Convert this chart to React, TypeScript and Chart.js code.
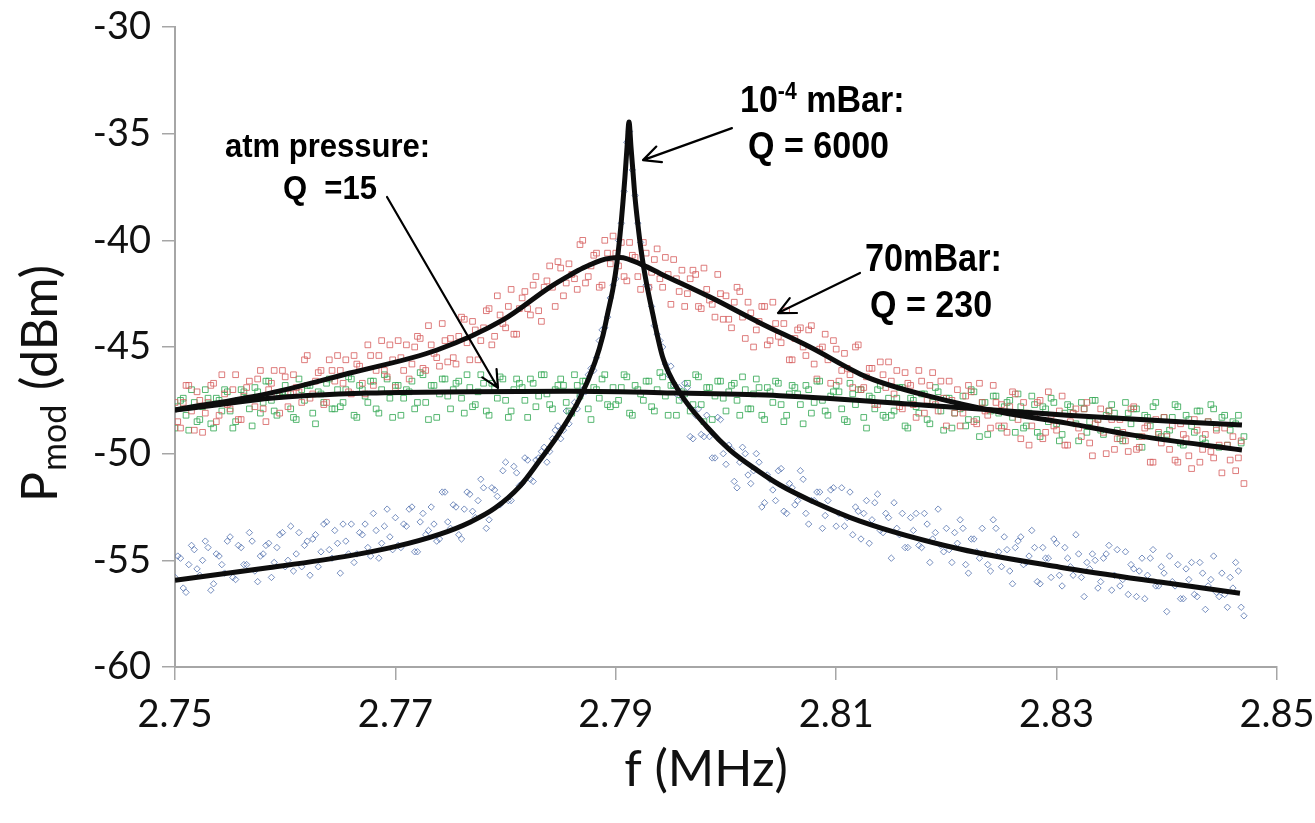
import React, { useEffect, useRef } from 'react';
import { Chart, registerables } from 'chart.js';
Chart.register(...registerables);

// Frequency sweep A (MHz)
const freq = [
  2.7500, 2.7505, 2.7510, 2.7515, 2.7520, 2.7525, 2.7530, 2.7535, 2.7540, 2.7545,
  2.7550, 2.7555, 2.7560, 2.7565, 2.7570, 2.7575, 2.7580, 2.7585, 2.7590, 2.7595,
  2.7600, 2.7605, 2.7610, 2.7615, 2.7620, 2.7625, 2.7630, 2.7635, 2.7640, 2.7645,
  2.7650, 2.7655, 2.7660, 2.7665, 2.7670, 2.7675, 2.7680, 2.7685, 2.7690, 2.7695,
  2.7700, 2.7705, 2.7710, 2.7715, 2.7720, 2.7725, 2.7730, 2.7735, 2.7740, 2.7745,
  2.7750, 2.7755, 2.7760, 2.7765, 2.7770, 2.7775, 2.7780, 2.7785, 2.7790, 2.7795,
  2.7800, 2.7805, 2.7810, 2.7815, 2.7820, 2.7825, 2.7830, 2.7835, 2.7840, 2.7845,
  2.7850, 2.7855, 2.7860, 2.7865, 2.7870, 2.7875, 2.7880, 2.7885, 2.7890, 2.7895,
  2.7900, 2.7905, 2.7910, 2.7915, 2.7920, 2.7925, 2.7930, 2.7935, 2.7940, 2.7945,
  2.7950, 2.7955, 2.7960, 2.7965, 2.7970, 2.7975, 2.7980, 2.7985, 2.7990, 2.7995,
  2.8000, 2.8005, 2.8010, 2.8015, 2.8020, 2.8025, 2.8030, 2.8035, 2.8040, 2.8045,
  2.8050, 2.8055, 2.8060, 2.8065, 2.8070, 2.8075, 2.8080, 2.8085, 2.8090, 2.8095,
  2.8100, 2.8105, 2.8110, 2.8115, 2.8120, 2.8125, 2.8130, 2.8135, 2.8140, 2.8145,
  2.8150, 2.8155, 2.8160, 2.8165, 2.8170, 2.8175, 2.8180, 2.8185, 2.8190, 2.8195,
  2.8200, 2.8205, 2.8210, 2.8215, 2.8220, 2.8225, 2.8230, 2.8235, 2.8240, 2.8245,
  2.8250, 2.8255, 2.8260, 2.8265, 2.8270, 2.8275, 2.8280, 2.8285, 2.8290, 2.8295,
  2.8300, 2.8305, 2.8310, 2.8315, 2.8320, 2.8325, 2.8330, 2.8335, 2.8340, 2.8345,
  2.8350, 2.8355, 2.8360, 2.8365, 2.8370, 2.8375, 2.8380, 2.8385, 2.8390, 2.8395,
  2.8400, 2.8405, 2.8410, 2.8415, 2.8420, 2.8425, 2.8430, 2.8435, 2.8440, 2.8445,
  2.8450, 2.8455, 2.8460, 2.8465, 2.8470,
];

// Frequency sweep B (MHz), interleaved with sweep A
const freq2 = [
  2.75025, 2.75075, 2.75125, 2.75175, 2.75225, 2.75275, 2.75325, 2.75375, 2.75425, 2.75475,
  2.75525, 2.75575, 2.75625, 2.75675, 2.75725, 2.75775, 2.75825, 2.75875, 2.75925, 2.75975,
  2.76025, 2.76075, 2.76125, 2.76175, 2.76225, 2.76275, 2.76325, 2.76375, 2.76425, 2.76475,
  2.76525, 2.76575, 2.76625, 2.76675, 2.76725, 2.76775, 2.76825, 2.76875, 2.76925, 2.76975,
  2.77025, 2.77075, 2.77125, 2.77175, 2.77225, 2.77275, 2.77325, 2.77375, 2.77425, 2.77475,
  2.77525, 2.77575, 2.77625, 2.77675, 2.77725, 2.77775, 2.77825, 2.77875, 2.77925, 2.77975,
  2.78025, 2.78075, 2.78125, 2.78175, 2.78225, 2.78275, 2.78325, 2.78375, 2.78425, 2.78475,
  2.78525, 2.78575, 2.78625, 2.78675, 2.78725, 2.78775, 2.78825, 2.78875, 2.78925, 2.78975,
  2.79025, 2.79075, 2.79125, 2.79175, 2.79225, 2.79275, 2.79325, 2.79375, 2.79425, 2.79475,
  2.79525, 2.79575, 2.79625, 2.79675, 2.79725, 2.79775, 2.79825, 2.79875, 2.79925, 2.79975,
  2.80025, 2.80075, 2.80125, 2.80175, 2.80225, 2.80275, 2.80325, 2.80375, 2.80425, 2.80475,
  2.80525, 2.80575, 2.80625, 2.80675, 2.80725, 2.80775, 2.80825, 2.80875, 2.80925, 2.80975,
  2.81025, 2.81075, 2.81125, 2.81175, 2.81225, 2.81275, 2.81325, 2.81375, 2.81425, 2.81475,
  2.81525, 2.81575, 2.81625, 2.81675, 2.81725, 2.81775, 2.81825, 2.81875, 2.81925, 2.81975,
  2.82025, 2.82075, 2.82125, 2.82175, 2.82225, 2.82275, 2.82325, 2.82375, 2.82425, 2.82475,
  2.82525, 2.82575, 2.82625, 2.82675, 2.82725, 2.82775, 2.82825, 2.82875, 2.82925, 2.82975,
  2.83025, 2.83075, 2.83125, 2.83175, 2.83225, 2.83275, 2.83325, 2.83375, 2.83425, 2.83475,
  2.83525, 2.83575, 2.83625, 2.83675, 2.83725, 2.83775, 2.83825, 2.83875, 2.83925, 2.83975,
  2.84025, 2.84075, 2.84125, 2.84175, 2.84225, 2.84275, 2.84325, 2.84375, 2.84425, 2.84475,
  2.84525, 2.84575, 2.84625, 2.84675,
];

// Measured P_mod (dBm): 10^-4 mBar (blue), sweep A
const pVacuum = [
  -55.8, -54.9, -56.5, -54.3, -55.4, -55.0, -54.4, -56.1, -54.8, -55.6,
  -53.9, -55.9, -54.4, -55.2, -54.1, -56.0, -54.7, -54.2, -55.1, -53.8,
  -55.3, -53.4, -54.7, -55.3, -54.1, -54.0, -55.3, -53.3, -54.5, -53.6,
  -55.6, -54.1, -53.3, -54.7, -53.8, -54.4, -52.8, -54.9, -53.4, -53.9,
  -53.0, -54.4, -53.4, -52.5, -54.6, -52.8, -53.6, -53.3, -54.0, -51.8,
  -53.5, -52.5, -54.0, -51.8, -52.7, -52.2, -51.6, -53.1, -51.7, -52.4,
  -50.4, -52.2, -50.9, -51.4, -50.3, -51.3, -50.2, -49.7, -49.9, -48.9,
  -49.3, -48.0, -48.1, -47.9, -47.0, -46.3, -46.1, -44.7, -44.1, -42.7,
  -41.8, -39.2, -35.4, -36.7, -39.2, -41.2, -42.2, -44.0, -44.7, -45.8,
  -45.9, -47.2, -47.4, -46.9, -49.3, -47.9, -49.2, -49.2, -50.2, -48.4,
  -50.5, -49.8, -51.6, -49.7, -51.0, -50.8, -50.4, -52.3, -51.2, -52.2,
  -50.7, -52.8, -51.6, -52.2, -51.2, -53.3, -52.2, -51.8, -52.9, -51.7,
  -53.4, -51.6, -53.0, -53.8, -52.7, -52.8, -54.2, -52.3, -53.6, -52.8,
  -54.9, -53.5, -52.8, -54.4, -53.6, -54.3, -52.8, -55.1, -53.7, -54.3,
  -53.5, -55.1, -54.2, -53.5, -55.6, -54.0, -54.9, -54.7, -55.5, -53.5,
  -55.3, -54.5, -56.1, -54.1, -55.2, -54.8, -54.4, -56.1, -54.9, -55.8,
  -54.2, -56.2, -54.9, -55.7, -54.7, -56.7, -55.4, -55.0, -56.0, -54.7,
  -56.4, -54.5, -55.9, -56.6, -55.4, -55.5, -56.8, -54.9, -56.2, -55.3,
  -57.4, -56.0, -55.2, -56.8, -55.9, -56.6, -55.1, -57.3, -55.9, -56.5,
  -55.6, -57.2, -56.3, -55.5, -57.6,
];
// sweep B
const pVacuum2 = [
  -54.8, -56.3, -55.2, -54.5, -55.7, -54.1, -56.4, -54.7, -55.2, -54.1,
  -55.8, -54.3, -55.2, -53.7, -55.5, -54.8, -54.3, -55.8, -54.4, -53.7,
  -55.0, -55.5, -53.7, -54.3, -55.7, -53.8, -54.6, -53.2, -54.9, -54.2,
  -53.3, -54.7, -55.1, -53.7, -53.3, -54.8, -53.6, -54.2, -52.6, -54.5,
  -54.3, -53.3, -52.6, -54.6, -53.2, -53.8, -52.5, -54.1, -51.8, -53.2,
  -52.4, -53.8, -52.6, -51.9, -53.0, -51.2, -53.5, -51.6, -52.0, -50.8,
  -52.2, -50.6, -51.5, -50.2, -51.2, -50.3, -49.9, -50.4, -49.3, -48.7,
  -48.9, -48.6, -47.6, -47.3, -47.1, -46.0, -45.5, -44.2, -43.6, -42.1,
  -40.0, -37.7, -34.9, -37.9, -40.1, -42.1, -43.1, -44.4, -45.0, -46.3,
  -46.8, -46.9, -46.7, -49.2, -48.2, -49.1, -48.2, -50.2, -48.3, -50.0,
  -49.6, -51.3, -50.4, -50.0, -51.4, -50.0, -52.5, -51.0, -51.7, -50.8,
  -52.7, -51.4, -52.4, -50.8, -52.8, -52.2, -51.8, -53.5, -52.2, -51.6,
  -52.8, -53.4, -51.8, -52.5, -54.0, -52.2, -53.1, -51.9, -53.7, -53.0,
  -52.3, -53.8, -54.4, -53.0, -52.8, -54.4, -53.3, -54.0, -52.6, -54.6,
  -54.5, -53.7, -53.1, -55.2, -54.0, -54.6, -53.5, -55.2, -53.1, -54.6,
  -53.9, -55.5, -54.4, -53.9, -55.1, -53.6, -56.0, -54.4, -54.9, -54.0,
  -55.7, -54.4, -55.3, -53.8, -55.8, -55.1, -54.7, -56.3, -54.9, -54.3,
  -55.7, -56.2, -54.6, -55.2, -56.7, -54.9, -55.7, -54.5, -56.2, -55.6,
  -54.8, -56.2, -56.8, -55.4, -55.1, -56.7, -55.6, -56.2, -54.8, -56.7,
  -56.6, -55.8, -55.1, -57.2,
];

// Measured P_mod (dBm): 70 mBar (red), sweep A
const p70mBar = [
  -47.6, -48.8, -46.8, -48.0, -47.1, -49.0, -47.6, -46.7, -48.2, -47.2,
  -47.9, -46.3, -48.4, -46.9, -47.4, -46.5, -47.9, -47.0, -46.1, -48.1,
  -46.4, -47.2, -46.9, -47.6, -45.4, -47.2, -46.2, -47.7, -45.6, -46.6,
  -46.1, -45.6, -47.2, -45.8, -46.7, -44.9, -46.8, -45.4, -46.1, -44.9,
  -46.9, -45.5, -44.9, -45.8, -44.5, -46.0, -44.0, -45.3, -45.9, -44.7,
  -44.6, -45.8, -43.6, -44.8, -43.8, -45.6, -44.1, -43.2, -44.5, -43.5,
  -44.1, -42.3, -44.4, -42.7, -43.2, -42.1, -43.3, -42.2, -41.2, -43.1,
  -41.3, -42.0, -41.6, -42.3, -40.0, -41.7, -40.7, -42.2, -40.0, -41.1,
  -40.6, -40.1, -41.9, -40.7, -41.7, -40.1, -42.2, -40.9, -41.8, -40.8,
  -43.0, -41.8, -41.4, -42.5, -41.4, -43.1, -41.3, -42.8, -43.6, -42.5,
  -42.6, -44.1, -42.2, -43.6, -42.9, -45.0, -43.8, -43.1, -44.7, -43.9,
  -44.8, -43.3, -45.6, -44.2, -45.0, -44.2, -45.8, -45.1, -44.4, -46.7,
  -45.1, -46.1, -46.0, -46.9, -44.9, -46.9, -46.0, -47.7, -45.7, -46.9,
  -46.6, -46.1, -47.9, -46.7, -47.7, -46.1, -48.1, -46.8, -47.7, -46.6,
  -48.7, -47.5, -47.0, -48.1, -46.8, -48.5, -46.7, -48.0, -48.8, -47.6,
  -47.7, -49.0, -47.1, -48.4, -47.6, -49.6, -48.2, -47.5, -49.0, -48.2,
  -48.9, -47.3, -49.6, -48.1, -48.8, -47.9, -49.5, -48.6, -47.9, -50.0,
  -48.4, -49.3, -49.0, -49.9, -47.8, -49.7, -48.8, -50.4, -48.4, -49.5,
  -49.2, -48.7, -50.4, -49.1, -50.1, -48.4, -50.4, -49.1, -49.9, -48.9,
  -50.9, -49.6, -49.2, -50.2, -51.4,
];
// sweep B
const p70mBar2 = [
  -48.5, -47.6, -46.8, -48.9, -47.5, -48.1, -46.8, -48.5, -46.3, -47.7,
  -47.0, -48.4, -47.3, -46.6, -47.8, -46.1, -48.5, -46.7, -47.2, -46.1,
  -47.8, -46.3, -47.1, -45.6, -47.4, -46.6, -46.1, -47.6, -46.1, -45.4,
  -46.7, -47.1, -45.4, -45.9, -47.2, -45.4, -46.1, -44.7, -46.4, -45.6,
  -44.7, -46.1, -46.5, -45.0, -44.6, -46.1, -44.9, -45.5, -43.9, -45.7,
  -45.5, -44.5, -43.7, -45.6, -44.2, -44.7, -43.3, -44.9, -42.6, -43.9,
  -43.1, -44.4, -43.2, -42.4, -43.5, -41.7, -43.8, -41.9, -42.2, -41.0,
  -42.6, -41.1, -41.8, -40.2, -42.0, -41.2, -40.6, -42.1, -40.6, -39.8,
  -41.2, -41.7, -40.1, -40.8, -42.3, -40.6, -41.5, -40.4, -42.2, -41.6,
  -40.9, -42.4, -43.1, -41.8, -41.6, -43.2, -42.3, -43.0, -41.6, -43.7,
  -43.7, -42.9, -42.4, -44.6, -43.4, -44.2, -43.1, -44.9, -42.9, -44.5,
  -43.9, -45.6, -44.6, -44.1, -45.4, -44.0, -46.5, -45.0, -45.6, -44.7,
  -46.6, -45.3, -46.3, -45.0, -47.0, -46.4, -46.0, -47.7, -46.3, -45.7,
  -47.2, -47.8, -46.2, -46.8, -48.3, -46.6, -47.5, -46.2, -48.0, -47.4,
  -46.6, -48.1, -48.7, -47.3, -47.1, -48.6, -47.6, -48.2, -46.8, -48.7,
  -48.7, -47.8, -47.2, -49.3, -48.1, -48.7, -47.6, -49.3, -47.1, -48.7,
  -48.0, -49.6, -48.5, -47.9, -49.2, -47.6, -50.1, -48.4, -49.0, -48.0,
  -49.8, -48.4, -49.4, -47.9, -49.8, -49.2, -48.7, -50.4, -49.0, -48.3,
  -49.8, -50.3, -48.6, -49.3, -50.7, -48.9, -49.8, -48.5, -50.2, -49.6,
  -48.8, -50.3, -50.8, -49.4,
];

// Measured P_mod (dBm): atmospheric pressure (green), sweep A
const pAtm = [
  -48.8, -47.5, -48.2, -47.0, -48.5, -47.8, -47.4, -48.8, -47.5, -47.0,
  -48.0, -48.5, -47.0, -47.4, -48.7, -47.1, -47.6, -46.6, -48.0, -47.3,
  -46.8, -47.9, -48.4, -47.0, -46.8, -48.1, -47.1, -47.6, -46.5, -47.9,
  -47.8, -47.0, -46.5, -48.3, -47.0, -47.6, -46.6, -48.1, -46.3, -47.4,
  -46.8, -48.2, -47.0, -46.6, -47.6, -46.3, -48.4, -46.8, -47.2, -46.5,
  -47.9, -46.7, -47.4, -46.3, -47.8, -47.1, -46.7, -48.2, -46.9, -46.4,
  -47.5, -48.0, -46.5, -46.9, -48.3, -46.7, -47.3, -46.3, -47.7, -47.0,
  -46.5, -47.6, -48.1, -46.8, -46.6, -47.9, -46.9, -47.4, -46.3, -47.8,
  -47.7, -46.9, -46.4, -48.2, -47.0, -47.5, -46.6, -48.0, -46.2, -47.3,
  -46.8, -48.2, -47.1, -46.7, -47.7, -46.4, -48.5, -46.9, -47.3, -46.6,
  -48.0, -46.8, -47.5, -46.4, -47.9, -47.2, -46.9, -48.4, -47.1, -46.6,
  -47.7, -48.2, -46.8, -47.2, -48.6, -47.0, -47.6, -46.6, -48.0, -47.3,
  -46.8, -47.9, -48.5, -47.2, -47.0, -48.3, -47.3, -47.9, -46.8, -48.3,
  -48.2, -47.4, -46.9, -48.8, -47.5, -48.1, -47.2, -48.6, -46.9, -48.0,
  -47.4, -48.8, -47.7, -47.3, -48.4, -47.1, -49.2, -47.6, -48.0, -47.3,
  -48.8, -47.6, -48.3, -47.2, -48.8, -48.1, -47.7, -49.2, -47.9, -47.4,
  -48.6, -49.1, -47.7, -48.1, -49.4, -47.9, -48.5, -47.5, -48.9, -48.2,
  -47.7, -48.9, -49.4, -48.1, -47.9, -49.2, -48.2, -48.7, -47.6, -49.2,
  -49.1, -48.3, -47.8, -49.6, -48.4, -49.0, -48.0, -49.5, -47.7, -48.8,
  -48.3, -49.6, -48.5, -48.2, -49.2,
];
// sweep B
const pAtm2 = [
  -47.8, -47.4, -48.9, -47.6, -48.4, -47.0, -48.6, -47.4, -48.0, -47.1,
  -48.8, -47.5, -47.1, -47.9, -46.9, -48.1, -46.6, -47.5, -48.2, -47.1,
  -47.1, -48.3, -46.5, -47.5, -46.8, -48.6, -47.2, -46.7, -47.9, -47.0,
  -47.6, -46.4, -48.2, -46.8, -47.3, -46.6, -47.9, -47.0, -46.5, -48.3,
  -46.8, -47.4, -47.1, -47.9, -46.2, -47.6, -46.8, -48.3, -46.5, -47.3,
  -47.0, -46.6, -48.1, -46.9, -47.7, -46.3, -48.0, -46.7, -47.4, -46.5,
  -48.3, -47.0, -46.7, -47.5, -46.5, -47.8, -46.3, -47.2, -47.9, -46.8,
  -46.8, -48.0, -46.3, -47.3, -46.6, -48.4, -47.0, -46.5, -47.7, -46.9,
  -47.5, -46.3, -48.1, -46.8, -47.2, -46.6, -47.8, -47.0, -46.4, -48.2,
  -46.8, -47.5, -47.2, -48.0, -46.3, -47.7, -46.9, -48.4, -46.6, -47.4,
  -47.1, -46.7, -48.2, -47.0, -47.9, -46.5, -48.2, -46.9, -47.6, -46.7,
  -48.5, -47.2, -46.9, -47.7, -46.8, -48.1, -46.6, -47.5, -48.2, -47.1,
  -47.1, -48.4, -46.7, -47.7, -47.0, -48.8, -47.4, -47.0, -48.2, -47.4,
  -48.0, -46.9, -48.7, -47.4, -47.8, -47.2, -48.4, -47.6, -47.1, -48.9,
  -47.4, -48.1, -47.9, -48.7, -47.0, -48.4, -47.6, -49.1, -47.3, -48.1,
  -47.8, -47.5, -49.0, -47.8, -48.7, -47.3, -49.0, -47.8, -48.5, -47.6,
  -49.4, -48.1, -47.8, -48.6, -47.6, -49.0, -47.5, -48.4, -49.1, -48.0,
  -48.1, -49.3, -47.6, -48.6, -47.9, -49.7, -48.3, -47.8, -49.1, -48.3,
  -48.9, -47.7, -49.5, -48.2, -48.7, -48.0, -49.3, -48.5, -47.9, -49.7,
  -48.2, -48.9, -48.6, -49.5,
];

// Lorentzian fit curves
const fitVacF = [
  2.75, 2.75862, 2.76588, 2.76996, 2.77405, 2.77677, 2.77904, 2.78131, 2.78312, 2.78494,
  2.78675, 2.78811, 2.78884, 2.78929, 2.78975, 2.79011, 2.79047, 2.79065, 2.79083, 2.79102,
  2.7912, 2.79138, 2.79156, 2.79174, 2.79201, 2.79229, 2.79265, 2.79328, 2.79428, 2.79583,
  2.79828, 2.80036, 2.80281, 2.8049, 2.80762, 2.81216, 2.82123, 2.83031, 2.83938, 2.84664,
];
const fitVacP = [
  -55.93, -55.34, -54.78, -54.36, -53.77, -53.21, -52.55, -51.52, -50.3, -48.99,
  -47.39, -45.71, -44.44, -43.36, -42.24, -41.02, -39.28, -38.2, -37.03, -35.63,
  -34.45, -35.63, -36.8, -37.97, -39.28, -40.45, -41.63, -43.27, -45.52, -47.16,
  -48.75, -49.83, -50.77, -51.47, -52.18, -53.16, -54.47, -55.32, -56.02, -56.54,
];
const fit70F = [
  2.75, 2.75862, 2.76588, 2.77378, 2.77976, 2.78403, 2.78584, 2.78702, 2.78902, 2.79038,
  2.79247, 2.79401, 2.79855, 2.80309, 2.80762, 2.81279, 2.81878, 2.82486, 2.83094, 2.83693,
  2.84682,
];
const fit70P = [
  -47.95, -47.16, -46.22, -45.14, -43.73, -42.19, -41.63, -41.3, -40.88, -40.8,
  -41.16, -41.55, -42.66, -43.87, -45.0, -46.41, -47.35, -48.05, -48.57, -49.13,
  -49.83,
];
const fitAtmF = [
  2.75, 2.75408, 2.75862, 2.7677, 2.77677, 2.78584, 2.79583, 2.8049, 2.81878, 2.83094, 2.84682,
];
const fitAtmP = [
  -47.95, -47.7, -47.4, -47.16, -47.1, -47.08, -47.16, -47.28, -47.75, -48.2, -48.66,
];

const xTicks = [2.75, 2.77, 2.79, 2.81, 2.83, 2.85];
const yTicks = [-60, -55, -50, -45, -40, -35, -30];

const pts = (xs: number[], ys: number[]) => xs.map((x, i) => ({ x, y: ys[i] }));

const LABEL_FONT = '"Liberation Sans", Arial, sans-serif';
const AXIS_FONT = 'Lato, "Open Sans", sans-serif';

type Run = { t: string; size: number; dy?: number };

function drawRuns(ctx: CanvasRenderingContext2D, runs: Run[], x: number, y: number, sx: number) {
  ctx.save();
  ctx.translate(x, y);
  ctx.scale(sx, 1);
  ctx.textAlign = 'left';
  ctx.textBaseline = 'alphabetic';
  let cx = 0;
  for (const r of runs) {
    ctx.font = `bold ${r.size}px ${LABEL_FONT}`;
    ctx.fillText(r.t, cx, r.dy || 0);
    cx += ctx.measureText(r.t).width;
  }
  ctx.restore();
}

function drawArrow(ctx: CanvasRenderingContext2D, x1: number, y1: number, x2: number, y2: number) {
  const ang = Math.atan2(y1 - y2, x1 - x2);
  const len = 19;
  const spread = 0.45;
  ctx.beginPath();
  ctx.moveTo(x1, y1);
  ctx.lineTo(x2, y2);
  ctx.moveTo(x2 + len * Math.cos(ang + spread), y2 + len * Math.sin(ang + spread));
  ctx.lineTo(x2, y2);
  ctx.lineTo(x2 + len * Math.cos(ang - spread), y2 + len * Math.sin(ang - spread));
  ctx.stroke();
}

const annotPlugin = {
  id: 'annot',
  afterDatasetsDraw(chart: any) {
    const ctx: CanvasRenderingContext2D = chart.ctx;
    const xs = chart.scales.x;
    const ys = chart.scales.y;
    const X = (f: number) => xs.getPixelForValue(f);
    const Y = (p: number) => ys.getPixelForValue(p);
    ctx.save();
    ctx.fillStyle = '#000';
    ctx.strokeStyle = '#000';
    ctx.lineWidth = 2.2;
    ctx.lineCap = 'round';
    ctx.lineJoin = 'round';

    // arrows
    drawArrow(ctx, X(2.76924), Y(-37.97), X(2.77931), Y(-46.92));
    drawArrow(ctx, X(2.80054), Y(-34.74), X(2.79247), Y(-36.24));
    drawArrow(ctx, X(2.81216), Y(-41.53), X(2.80472), Y(-43.41));

    // labels
    drawRuns(ctx, [{ t: 'atm pressure:', size: 33 }], X(2.75454), Y(-36.09), 0.94);
    drawRuns(ctx, [{ t: 'Q  =15', size: 33 }], X(2.7598), Y(-38.06), 0.94);
    drawRuns(ctx, [{ t: '10', size: 37 }, { t: '-4', size: 23, dy: -13 }, { t: ' mBar:', size: 37 }], X(2.80127), Y(-33.98), 0.92);
    drawRuns(ctx, [{ t: 'Q = 6000', size: 37 }], X(2.802), Y(-36.14), 0.92);
    drawRuns(ctx, [{ t: '70mBar:', size: 38 }], X(2.81261), Y(-41.44), 0.9);
    drawRuns(ctx, [{ t: 'Q = 230', size: 37 }], X(2.81307), Y(-43.6), 0.92);

    // axis titles
    ctx.fillStyle = '#111';
    ctx.textBaseline = 'alphabetic';
    ctx.textAlign = 'center';
    ctx.font = `50px ${AXIS_FONT}`;
    ctx.fillText('f (MHz)', 706, 786);

    ctx.translate(57, 502);
    ctx.rotate(-Math.PI / 2);
    ctx.textAlign = 'left';
    ctx.font = `50px ${AXIS_FONT}`;
    ctx.fillText('P', 0, 0);
    let w = ctx.measureText('P').width + 1;
    ctx.font = `34px ${AXIS_FONT}`;
    ctx.fillText('mod', w, 9);
    w += ctx.measureText('mod').width + 2;
    ctx.font = `50px ${AXIS_FONT}`;
    ctx.fillText(' (dBm)', w, 0);
    ctx.restore();
  },
};

export default function App() {
  const ref = useRef<HTMLCanvasElement | null>(null);

  useEffect(() => {
    document.body.style.margin = '0';
    if (!ref.current) return;
    const lineDs = (data: any[]) => ({
      data,
      showLine: true,
      borderColor: '#0d0d0d',
      borderWidth: 5,
      pointRadius: 0,
      fill: false,
      cubicInterpolationMode: 'monotone' as const,
    });
    const dotDs = (data: any[], color: string, style: string, r: number) => ({
      data,
      showLine: false,
      pointStyle: style,
      pointRadius: r,
      pointBorderWidth: 1,
      pointBorderColor: color,
      pointBackgroundColor: 'rgba(255,255,255,0)',
      borderColor: color,
      backgroundColor: 'rgba(255,255,255,0)',
    });
    const RED = 'rgba(214,92,92,0.8)';
    const GREEN = 'rgba(56,170,88,0.85)';
    const BLUE = 'rgba(74,105,170,0.75)';

    const chart = new Chart(ref.current, {
      type: 'scatter',
      data: {
        datasets: [
          lineDs(pts(fitVacF, fitVacP)),
          lineDs(pts(fit70F, fit70P)),
          lineDs(pts(fitAtmF, fitAtmP)),
          dotDs(pts(freq, p70mBar), RED, 'rect', 4),
          dotDs(pts(freq2, p70mBar2), RED, 'rect', 4),
          dotDs(pts(freq, pAtm), GREEN, 'rect', 4),
          dotDs(pts(freq2, pAtm2), GREEN, 'rect', 4),
          dotDs(pts(freq, pVacuum), BLUE, 'rectRot', 3.2),
          dotDs(pts(freq2, pVacuum2), BLUE, 'rectRot', 3.2),
        ] as any,
      },
      options: {
        animation: false,
        responsive: false,
        devicePixelRatio: 1,
        layout: { padding: { top: 27, right: 38, left: 0, bottom: 0 } },
        plugins: { legend: { display: false }, tooltip: { enabled: false } },
        scales: {
          x: {
            type: 'linear',
            min: 2.75,
            max: 2.85,
            afterBuildTicks: (s: any) => {
              s.ticks = xTicks.map((v) => ({ value: v }));
            },
            afterFit: (s: any) => {
              s.height = 156;
              s.paddingLeft = 0;
              s.paddingRight = 0;
            },
            ticks: {
              callback: (v: any) => Number(v).toFixed(2),
              font: { family: AXIS_FONT, size: 38 },
              color: '#111',
              padding: 12,
              maxRotation: 0,
              autoSkip: false,
            },
            grid: { display: true, drawOnChartArea: false, drawTicks: true, tickLength: 13, color: '#a6a6a6', lineWidth: 1.5 },
            border: { display: true, color: '#a6a6a6', width: 2 },
          },
          y: {
            type: 'linear',
            min: -60,
            max: -30,
            afterBuildTicks: (s: any) => {
              s.ticks = yTicks.map((v) => ({ value: v }));
            },
            afterFit: (s: any) => {
              s.width = 175;
              s.paddingTop = 0;
              s.paddingBottom = 0;
            },
            ticks: {
              callback: (v: any) => String(v),
              font: { family: AXIS_FONT, size: 38 },
              color: '#111',
              padding: 11,
              autoSkip: false,
            },
            grid: { display: true, drawOnChartArea: false, drawTicks: true, tickLength: 13, color: '#a6a6a6', lineWidth: 1.5 },
            border: { display: true, color: '#a6a6a6', width: 2 },
          },
        },
      },
      plugins: [annotPlugin],
    });
    return () => chart.destroy();
  }, []);

  return (
    <div style={{ position: 'absolute', left: 0, top: 0, width: 1315, height: 823, background: '#fff' }}>
      <canvas ref={ref} width={1315} height={823} style={{ width: 1315, height: 823, display: 'block' }} />
    </div>
  );
}
